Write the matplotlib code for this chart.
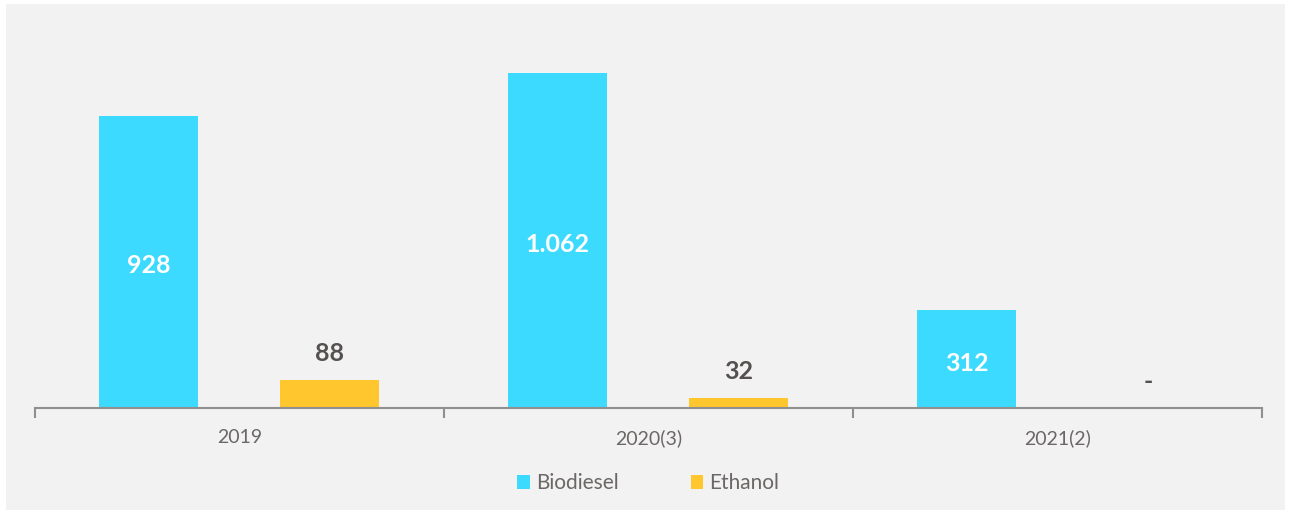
import numpy as np
import matplotlib.pyplot as plt
from matplotlib.patches import Rectangle

# DADOS
anos = ["2019", "2020(3)", "2021(2)"]
biodiesel = [928, 1062, 312]
etanol = [88, 32, 0]
rot_bio = ["928", "1.062", "312"]
rot_eta = ["88", "32", "-"]

azul = "#3DDAFF"
amarelo = "#FFC62E"
cinza_txt = "#6b6766"

plt.rcParams['font.family'] = ['Lato', 'DejaVu Sans']

fig = plt.figure(figsize=(12.91, 5.13), dpi=100)
fig.patch.set_facecolor("white")
fig.patches.append(Rectangle((6/1291, 3/513), 1279/1291, 506/513,
                             transform=fig.transFigure, facecolor="#f2f2f2",
                             edgecolor="none", zorder=-10))

ax = fig.add_axes([35/1291, 105/513, 1227/1291, 398/513])
ax.set_facecolor("none")

x = np.arange(len(anos))
w = 0.242
b1 = ax.bar(x - 0.222, biodiesel, w, color=azul, label="Biodiesel")
b2 = ax.bar(x + 0.221, etanol, w, color=amarelo, label="Ethanol")

for r, t in zip(b1, rot_bio):
    ax.annotate(t, (r.get_x() + r.get_width()/2, r.get_height()/2), xytext=(0, -3),
                textcoords="offset points", ha="center", va="center",
                color="white", fontsize=18, fontweight="bold")
for r, t in zip(b2, rot_eta):
    ax.annotate(t, (r.get_x() + r.get_width()/2, r.get_height()), xytext=(0, 19),
                textcoords="offset points", ha="center", va="center",
                color="#555150", fontsize=18, fontweight="bold")

ax.set_xlim(-0.5, 2.5)
ax.set_ylim(0, 1263)
for s in ["top", "right", "left"]:
    ax.spines[s].set_visible(False)
ax.spines["bottom"].set_color("#8f8f8f")
ax.spines["bottom"].set_linewidth(1.5)
ax.set_yticks([])
ax.set_xticks(x)
ax.set_xticklabels(anos, fontsize=14, color=cinza_txt)
ax.tick_params(axis="x", which="major", length=0, pad=15)
ax.set_xticks([-0.5, 0.5, 1.5, 2.5], minor=True)
ax.tick_params(axis="x", which="minor", length=7, width=1.5, color="#8f8f8f")

leg = ax.legend(loc="upper center", bbox_to_anchor=(0.5, -0.117), ncol=2, frameon=False,
                fontsize=15, handlelength=0.6, handleheight=0.6, handletextpad=0.3,
                columnspacing=3.45)
for t in leg.get_texts():
    t.set_color(cinza_txt)

fig.savefig("out.png", dpi=100)
